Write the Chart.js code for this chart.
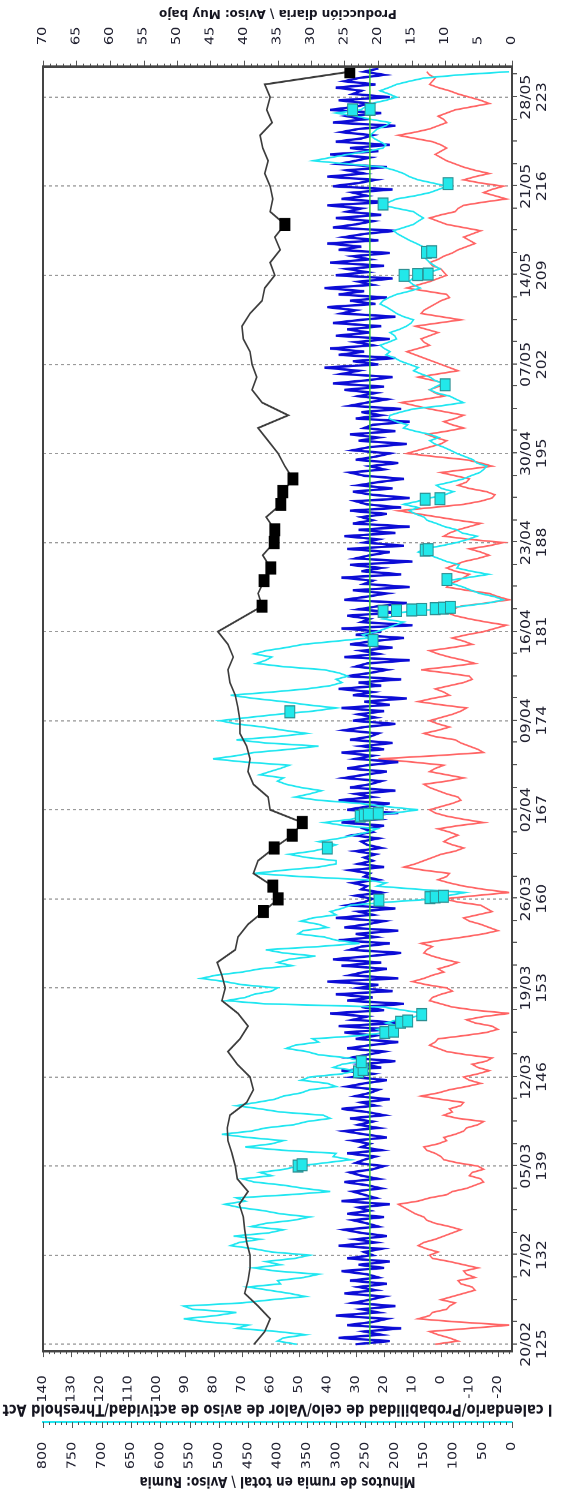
<!DOCTYPE html>
<html><head><meta charset="utf-8">
<script src="https://cdn.jsdelivr.net/npm/chart.js@4.4.1/dist/chart.umd.min.js"></script>
<style>
html,body{margin:0;padding:0;background:#fff;}
body{width:565px;height:1497px;overflow:hidden;position:relative;}
#wrap{position:absolute;left:0;top:0;width:1248px;height:565px;transform-origin:0 0;transform:translateY(1497px) rotate(-90deg) scaleX(1.1995);}
#rt{position:absolute;left:0;top:6px;width:556px;text-align:center;font:bold 12px 'DejaVu Sans',sans-serif;color:#151520;transform:rotate(180deg);white-space:nowrap;line-height:16px;}
</style></head>
<body>
<div id="wrap"><canvas id="c" width="1248" height="565"></canvas></div>
<div id="rt">Producción diaria \ Aviso: Muy bajo</div>
<script>
// ---- axis tick labels ----
const dayTicks = [125,132,139,146,153,160,167,174,181,188,195,202,209,216,223];
const dateLabels = ['20/02','27/02','05/03','12/03','19/03','26/03','02/04','09/04','16/04','23/04','30/04','07/05','14/05','21/05','28/05'];
const prodTicks = [0,5,10,15,20,25,30,35,40,45,50,55,60,65,70];
const actTicks = [-20,-10,0,10,20,30,40,50,60,70,80,90,100,110,120,130,140];
const rumiaTicks = [0,50,100,150,200,250,300,350,400,450,500,550,600,650,700,750,800];

// ---- daily production (day 125 .. 225) ----
const prodStartDay = 125;
const prodValues = [38.5,36.9,36.1,37.9,39.9,39.4,39.1,39.1,39.6,39.9,
 40.1,40.7,39.4,41.0,41.3,41.8,42.4,42.5,42.1,39.6,
 38.6,39.1,41.0,42.4,40.6,39.4,40.9,43.3,42.8,43.3,
 44.0,41.3,40.9,39.4,37.1,34.9,35.7,38.6,37.9,35.5,
 32.8,31.3,36.1,36.4,38.6,39.4,39.1,39.6,40.6,40.6,
 40.9,41.3,42.1,42.4,41.6,42.4,43.9,40.6,37.3,37.9,
 37.0,36.0,37.2,35.5,35.4,36.7,34.5,34.2,32.7,33.9,
 34.9,36.4,37.9,33.4,37.3,38.8,38.1,38.8,39.1,40.1,
 40.3,39.1,37.3,36.9,35.4,36.1,34.6,35.4,33.9,36.1,
 35.7,36.1,36.9,36.4,37.2,37.6,35.8,36.6,36.1,36.9,
 24.2];
const prodAlertDays = [159,160,161,164,165,166,183,185,186,188,189,191,192,193,213,225];

// ---- rumination minutes (every 6 h from day 125) ----
const rumiaStartDay = 125, rumiaStep = 0.25;
const rumiaValues = [367,400,390,352,400,470,450,520,560,505,470,545,560,460,410,352,380,415,450,395,400,355,330,402,440,395,420,370,345,410,440,480,465,430,475,415,390,445,420,372,
 345,395,424,465,490,455,470,380,310,355,390,440,460,410,430,388,365,320,275,305,300,392,455,410,390,450,495,445,420,372,350,310,322,395,430,470,436,405,390,360,
 345,300,315,360,345,290,265,305,290,255,280,330,350,385,370,330,340,260,215,230,190,215,195,165,150,185,220,420,487,455,440,410,400,460,490,530,505,460,430,375,
 400,380,335,390,420,330,260,300,320,365,356,315,330,360,340,300,310,290,275,210,130,110,80,160,230,215,250,360,440,390,330,300,300,350,380,340,315,300,330,295,
 270,245,230,285,320,275,250,200,160,215,260,330,370,345,325,360,385,400,390,430,413,395,380,455,510,470,440,380,330,420,470,400,350,390,424,470,498,450,400,340,
 300,350,390,440,480,410,350,310,290,300,280,295,320,390,436,420,410,440,420,385,356,300,245,255,230,215,200,185,220,200,190,130,83,40,15,30,55,70,83,100,
 111,75,40,70,94,90,111,125,140,160,150,120,94,75,60,85,94,115,129,145,150,165,175,160,185,160,140,115,100,120,129,105,83,70,55,48,43,60,66,80,
 94,105,117,132,140,125,140,165,185,178,197,210,208,190,168,120,83,95,106,128,140,130,118,132,140,155,168,160,175,190,200,215,208,218,225,210,197,200,208,192,
 180,172,168,185,197,205,214,225,220,210,197,175,157,168,175,170,161,140,123,132,140,146,151,145,140,152,163,175,185,195,202,185,168,160,151,160,168,195,220,210,
 197,165,140,125,111,135,160,175,185,200,220,280,339,310,280,245,220,215,225,235,242,236,230,215,208,240,265,300,258,250,240,215,197,210,225,210,197,175,150,90,
 5];
const rumiaAlertDays = [139.0,139.1,146.4,146.6,147.2,149.5,149.6,150.3,150.4,150.9,159.9,160.1,160.15,160.2,164.0,
 166.5,166.6,166.65,166.7,174.7,180.3,182.6,182.65,182.7,182.75,182.8,182.85,182.9,185.1,187.4,187.45,
 191.4,191.45,200.4,209.0,209.05,209.1,210.8,210.85,214.6,216.2,222.0,222.05];
const rumiaAlertValues = [365,358,262,254,257,217,202,190,178,154,227,140,131,117,315,
 259,252,245,228,379,237,220,197,171,154,131,117,105,111,148,143,
 148,123,114,184,161,143,146,137,220,109,272,242];

// ---- activity (every 6 h from day 125) ----
const actStartDay = 125, actStep = 0.25;
const actValues = [30,18,36,21,27,14,33,24,19,37,22,28,16,31,25,20,34,23,29,19,
 32,22,26,35,20,29,18,33,24,27,21,36,23,30,19,28,34,22,26,31,
 20,33,25,29,18,35,23,27,31,21,26,34,22,28,32,24,20,30,27,23,
 33,21,28,25,31,19,27,34,22,29,24,32,20,26,35,23,28,18,30,25,
 22,33,27,19,31,24,35,21,28,16,32,26,20,33,25,15,30,23,34,18,
 36,14,31,26,39,20,28,13,33,24,37,17,29,22,40,15,32,27,19,35,
 21,38,25,14,32,28,18,36,23,30,15,34,26,20,37,24,29,16,33,27,
 24,30,21,28,26,31,22,27,25,32,20,29,24,27,23,30,21,26,28,22,
 31,24,27,20,35,22,29,15,33,26,18,36,24,30,16,32,25,21,34,27,
 19,33,26,15,30,24,35,20,28,17,32,25,22,34,27,16,31,23,29,20,
 35,18,27,12,31,24,36,21,29,14,33,25,19,30,26,11,34,22,28,17,
 32,24,13,30,21,35,10,28,25,33,16,29,22,12,34,26,19,31,11,27,
 24,35,14,28,21,32,10,30,25,18,33,13,27,22,34,16,29,11,31,24,
 28,19,32,14,26,30,11,24,31,17,29,22,13,27,32,20,25,15,30,23,
 18,31,25,12,29,22,32,16,27,24,11,30,21,28,14,32,26,19,29,23,
 34,20,38,26,17,35,29,41,22,31,16,36,27,39,24,30,18,37,25,33,
 21,38,28,16,35,30,40,23,32,19,36,27,41,24,29,17,37,26,33,20,
 39,25,31,18,36,28,40,22,34,27,16,38,30,24,37,21,33,28,40,19,
 35,26,31,17,38,29,23,40,27,33,19,36,30,25,39,22,32,18,37,28,
 24,35,29,16,38,27,33,21,39,30,25,36,18,31,28,37,23,34,29,20,
 27,22];

// ---- heat probability (every 6 h from day 125) ----
const probStartDay = 125, probStep = 0.25;
const probValues = [2,-6,-3,1,4,-10,-24,-6,8,4,3,-2,-3,-5,0,-4,-8,-12,-11,-7,-6,-12,-9,-8,-13,-8,-3,3,4,1,5,8,6,2,-1,-4,-7,-3,2,5,
 6,9,11,13,15,8,4,-2,-4,-9,-12,-15,-14,-10,-11,-15,-13,-6,-1,0,2,5,6,1,-2,-1,-5,-8,-9,-13,-15,-6,-1,-4,-3,-7,-8,0,7,1,
 -3,-9,-14,-10,-8,-13,-17,-13,-11,-16,-18,-9,-2,1,4,2,1,-8,-16,-20,-18,-12,-9,-15,-24,-12,-4,0,4,3,0,-4,-2,5,10,6,3,-1,1,-3,
 -6,-1,3,6,5,3,7,0,-8,-15,-20,-17,-14,-10,-8,-13,-18,-16,-14,-6,-1,-12,-24,-15,-8,-3,1,-2,-3,6,13,9,6,3,0,-5,-8,-4,-1,-3,
 -6,-3,1,-6,-15,-8,-2,2,4,0,-4,-7,-6,-2,1,4,6,-2,-8,-2,4,2,-1,10,22,2,-15,-13,-10,-7,-5,2,6,1,-3,1,4,0,-4,-7,
 -9,0,8,3,-3,-1,2,-3,-8,-11,-10,-2,7,-3,-12,-8,-3,1,4,-4,-11,-8,-4,-9,-15,-19,-23,-16,-10,-5,-2,-4,-7,-16,-24,-20,-17,-9,-2,-3,
 -6,-8,-10,-5,-2,-5,-8,-13,-17,-14,-10,-17,-22,-10,-1,-3,-6,-10,-14,-6,1,8,15,3,-8,-14,-18,-19,-16,-10,-6,-9,-10,-5,0,-9,-18,-14,-9,2,
 12,8,4,0,-2,2,5,-2,-8,-4,-1,-5,-8,-2,4,9,14,6,-1,2,4,1,-2,3,8,1,-6,-3,0,3,6,9,12,8,4,6,7,4,1,5,
 9,1,-7,0,7,6,4,2,0,-3,-2,5,12,8,4,1,-2,-1,0,3,4,1,-1,-4,-6,-9,-12,-10,-8,-11,-14,-8,-2,1,4,0,-5,-6,-8,-15,
 -23,-19,-15,-18,-22,-14,-8,-12,-17,-12,-8,-5,-2,0,2,0,-2,0,3,9,15,9,4,1,-2,-1,1,-2,-5,-11,-17,-14,-10,-6,-3,1,4,3,2,4,
 5];

// ---- activity threshold ----
const thresholdDays = [125, 225.25];
const thresholdValues = [25, 25];

// ---- build point lists ----
const toPts = (start, step, vals) => vals.map((v, i) => ({x: start + i * step, y: v}));
const prodPts = toPts(prodStartDay, 1, prodValues);
const rumiaPts = toPts(rumiaStartDay, rumiaStep, rumiaValues);
const actPts = toPts(actStartDay, actStep, actValues);
const probPts = toPts(probStartDay, probStep, probValues);
const rumiaAlertPts = rumiaAlertDays.map((d, i) => ({x: d, y: rumiaAlertValues[i]}));
const thresholdPts = thresholdDays.map((d, i) => ({x: d, y: thresholdValues[i]}));

Chart.defaults.font.family = "'DejaVu Sans', Verdana, sans-serif";
Chart.defaults.color = '#202030';

const frameTicks = {
  id: 'frameTicks',
  afterDraw(chart) {
    const ctx = chart.ctx, a = chart.chartArea, s = chart.scales;
    ctx.save();
    ctx.strokeStyle = '#555';
    ctx.lineWidth = 1;
    const seg = (x1, y1, x2, y2) => { ctx.beginPath(); ctx.moveTo(x1, y1); ctx.lineTo(x2, y2); ctx.stroke(); };
    for (let d = dayTicks[0]; d <= s.x.max; d += 1.75) {
      const p = Math.round(s.x.getPixelForValue(d)) + 0.5;
      seg(p, a.bottom, p, a.bottom + 5);
    }
    for (let v = 0; v <= 70; v += 1) {
      const p = Math.round(s.y.getPixelForValue(v)) + 0.5;
      seg(a.right, p, a.right + (v % 5 === 0 ? 5 : 2.5), p);
    }
    for (let v = -24; v <= 140; v += 2) {
      const p = Math.round(s.y1.getPixelForValue(v)) + 0.5;
      seg(a.left, p, a.left - (v % 10 === 0 ? 5 : 2.5), p);
    }
    for (let v = 0; v <= 800; v += 10) {
      const p = Math.round(s.yR.getPixelForValue(v)) + 0.5;
      seg(s.yR.right, p, s.yR.right - (v % 50 === 0 ? 5 : 2.5), p);
    }
    ctx.strokeStyle = '#444';
    ctx.lineWidth = 2;
    ctx.strokeRect(a.left, a.top, a.right - a.left, a.bottom - a.top);
    ctx.restore();
  }
};

const setTicks = arr => s => { s.ticks = arr.map(v => ({value: v})); };

new Chart(document.getElementById('c'), {
  type: 'line',
  data: {
    datasets: [
      {label: 'Aviso: Rumia', data: rumiaAlertPts, yAxisID: 'yR', showLine: false,
       pointStyle: 'rect', pointRadius: 7, pointBackgroundColor: '#22e8ea', pointBorderColor: '#2b8f92', pointBorderWidth: 1},
      {label: 'Producción diaria', data: prodPts, yAxisID: 'y', borderColor: '#3c3c3c', borderWidth: 1.6,
       pointStyle: 'rect', pointBackgroundColor: '#000', pointBorderColor: '#000', pointBorderWidth: 1,
       pointRadius: c => prodAlertDays.includes(c.raw && c.raw.x) ? 7 : 0},
      {label: 'Threshold Act', data: thresholdPts, yAxisID: 'y1', borderColor: '#35c835', borderWidth: 1.5, pointRadius: 0},
      {label: 'Minutos de rumia', data: rumiaPts, yAxisID: 'yR', borderColor: '#1fe6f0', borderWidth: 1.4, pointRadius: 0},
      {label: 'Actividad', data: actPts, yAxisID: 'y1', borderColor: '#0c0cd6', borderWidth: 2, pointRadius: 0},
      {label: 'Probabilidad de celo', data: probPts, yAxisID: 'y1', borderColor: '#ff6464', borderWidth: 1.4, pointRadius: 0}
    ]
  },
  options: {
    responsive: false,
    animation: false,
    devicePixelRatio: 2,
    layout: {padding: {top: 43, left: 0, right: 0, bottom: 0}},
    plugins: {legend: {display: false}, tooltip: {enabled: false}},
    elements: {line: {tension: 0}},
    scales: {
      x: {
        type: 'linear', position: 'bottom', min: 124.45, max: 225.4,
        afterBuildTicks: setTicks(dayTicks),
        afterFit: s => { s.height = 53; },
        ticks: {autoSkip: false, maxRotation: 0, padding: 7, font: {size: 13},
                callback: (v, i) => [dateLabels[i], String(dayTicks[i])]},
        grid: {display: true, drawOnChartArea: true, drawTicks: false, color: '#9a9a9a', lineWidth: 1, borderDash: [3, 3]},
        border: {display: false, dash: [3, 3]}
      },
      y: {
        type: 'linear', position: 'right', min: 0, max: 70,
        afterBuildTicks: setTicks(prodTicks),
        afterFit: s => { s.width = 55.5; },
        ticks: {autoSkip: false, padding: 10, font: {size: 12}},
        grid: {display: false}, border: {display: false}
      },
      y1: {
        type: 'linear', position: 'left', min: -25, max: 140, weight: 1,
        afterBuildTicks: setTicks(actTicks),
        afterFit: s => { s.width = 59; },
        ticks: {autoSkip: false, padding: 12, font: {size: 12}},
        grid: {display: false}, border: {display: false},
        title: {display: true, text: 'l calendario/Probabilidad de celo/Valor de aviso de actividad/Threshold Act',
                font: {size: 13, weight: 'bold'}, color: '#151520', padding: {top: 3.5, bottom: 0}}
      },
      yR: {
        type: 'linear', position: 'left', min: 0, max: 800, weight: 2,
        afterBuildTicks: setTicks(rumiaTicks),
        afterFit: s => { s.width = 62.5; },
        ticks: {autoSkip: false, padding: 8.5, font: {size: 12}},
        grid: {display: false}, border: {display: true, color: '#1fe6f0', width: 2},
        title: {display: true, text: 'Minutos de rumia en total \\ Aviso: Rumia',
                font: {size: 12, weight: 'bold'}, color: '#151520', padding: {top: 6, bottom: 0}}
      }
    }
  },
  plugins: [frameTicks]
});
</script>
</body></html>
